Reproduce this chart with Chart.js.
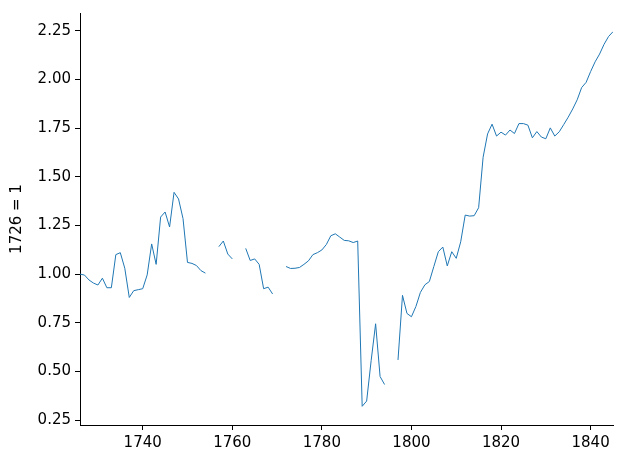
<!DOCTYPE html>
<html>
<head>
<meta charset="utf-8">
<script src="https://cdn.jsdelivr.net/npm/chart.js@4/dist/chart.umd.min.js"></script>
<style>
  body { margin: 0; background: #fff; }
  #chart { display: block; }
</style>
</head>
<body>
<canvas id="chart" width="623" height="463"></canvas>
<script>
// anos e índice (1726 = 1), null = sem dado
const years = [];
for (let y = 1726; y <= 1845; y++) years.push(y);

const values = [
  1.00, 0.995, 0.97, 0.954, 0.944, 0.979, 0.93, 0.93, 1.10, 1.11,      // 1726-1735
  1.03, 0.88, 0.915, 0.92, 0.925, 0.996, 1.155, 1.05, 1.293, 1.319,    // 1736-1745
  1.242, 1.42, 1.386, 1.285, 1.06, 1.055, 1.044, 1.018, 1.005, null,   // 1746-1755
  null, 1.141, 1.17, 1.103, 1.078, null, null, 1.132, 1.07, 1.078,     // 1756-1765
  1.05, 0.925, 0.933, 0.898, null, null, 1.039, 1.029, 1.03, 1.034,    // 1766-1775
  1.05, 1.068, 1.10, 1.11, 1.124, 1.152, 1.197, 1.207, 1.19, 1.173,    // 1776-1785
  1.171, 1.162, 1.17, 0.321, 0.348, 0.555, 0.745, 0.474, 0.433, null,  // 1786-1795
  null, 0.559, 0.891, 0.798, 0.781, 0.834, 0.906, 0.945, 0.962, 1.039, // 1796-1805
  1.115, 1.139, 1.042, 1.115, 1.081, 1.166, 1.303, 1.298, 1.30, 1.341, // 1806-1815
  1.60, 1.72, 1.77, 1.709, 1.729, 1.714, 1.74, 1.722, 1.773, 1.773,    // 1816-1825
  1.765, 1.70, 1.732, 1.704, 1.695, 1.751, 1.709, 1.731, 1.768, 1.806, // 1826-1835
  1.848, 1.895, 1.958, 1.985, 2.04, 2.09, 2.13, 2.18, 2.22, 2.245      // 1836-1845
];

const xTicks = [1740, 1760, 1780, 1800, 1820, 1840];
const yTicks = [0.25, 0.50, 0.75, 1.00, 1.25, 1.50, 1.75, 2.00, 2.25];

const points = years.map((y, i) => ({ x: y, y: values[i] }));
const font = { family: 'DejaVu Sans', size: 15 };

new Chart(document.getElementById('chart'), {
  type: 'line',
  data: {
    datasets: [{
      data: points,
      borderColor: '#1f77b4',
      borderWidth: 1,
      pointRadius: 0,
      tension: 0,
      spanGaps: false
    }]
  },
  options: {
    responsive: false,
    animation: false,
    devicePixelRatio: 1,
    layout: { padding: { top: 9, right: 10, left: 0, bottom: 0 } },
    plugins: { legend: { display: false }, tooltip: { enabled: false } },
    scales: {
      x: {
        type: 'linear',
        min: 1726,
        max: 1845,
        afterBuildTicks: s => { s.ticks = xTicks.map(v => ({ value: v })); },
        afterFit: s => { s.height = 38; },
        grid: { drawOnChartArea: false, drawTicks: true, tickLength: 5, color: '#000' },
        border: { display: true, color: '#000', width: 1 },
        ticks: { color: '#000', font: font, padding: 4, maxRotation: 0, callback: v => String(v) },
      },
      y: {
        min: 0.225,
        max: 2.341,
        afterBuildTicks: s => { s.ticks = yTicks.map(v => ({ value: v })); },
        afterFit: s => { s.width = 80; },
        grid: { drawOnChartArea: false, drawTicks: true, tickLength: 5, color: '#000' },
        border: { display: true, color: '#000', width: 1 },
        ticks: { color: '#000', font: font, padding: 4, callback: v => v.toFixed(2) },
        title: { display: true, text: '1726 = 1', color: '#000', font: font, padding: { top: 8, bottom: 0 } }
      }
    }
  }
});
</script>
</body>
</html>
